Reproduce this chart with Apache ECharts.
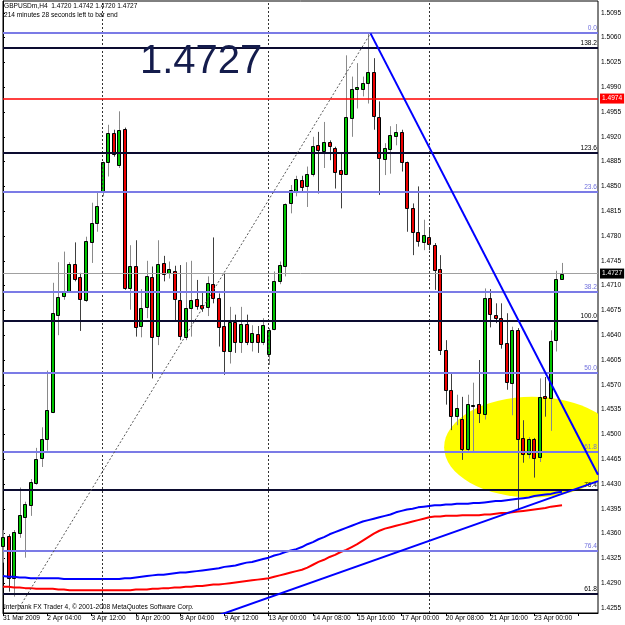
<!DOCTYPE html>
<html><head><meta charset="utf-8">
<script src="https://cdn.jsdelivr.net/npm/echarts@6/dist/echarts.min.js"></script>
<style>html,body{margin:0;padding:0;background:#fff}#c{width:625px;height:625px}</style>
</head><body><div id="c"></div>
<script>
// ---------- DATA ----------
const symbolName = 'GBPUSDm,H4';
const timerText = '214 minutes 28 seconds left to bar end';
const copyrightText = 'Interbank FX Trader 4, \u00a9 2001-2008 MetaQuotes Software Corp.';
const timeLabels = ['31 Mar 2009','2 Apr 04:00','3 Apr 12:00','6 Apr 20:00','8 Apr 04:00','9 Apr 12:00','13 Apr 00:00','14 Apr 08:00','15 Apr 16:00','17 Apr 00:00','20 Apr 08:00','21 Apr 16:00','23 Apr 00:00'];
const barsPerLabel = 8;
const priceTicks = [1.4255,1.4290,1.4325,1.4360,1.4395,1.4430,1.4465,1.4500,1.4535,1.4570,1.4605,1.4640,1.4675,1.4710,1.4745,1.4780,1.4815,1.4850,1.4885,1.4920,1.4955,1.4990,1.5025,1.5060,1.5095];

const opens = [1.4343,1.4357,1.4298,1.4361,1.4384,1.4400,1.4432,1.4466,1.4493,1.4532,
1.4669,1.4696,1.4701,1.4740,1.4722,1.4690,1.4772,1.4798,1.4842,1.4884,
1.4926,1.4880,1.4931,1.4707,1.4738,1.4653,1.4680,1.4722,1.4639,1.4742,
1.4728,1.4731,1.4690,1.4638,1.4678,1.4691,1.4683,1.4680,1.4712,1.4692,
1.4653,1.4617,1.4659,1.4630,1.4656,1.4630,1.4641,1.4630,1.4614,1.4649,
1.4716,1.4737,1.4826,1.4843,1.4859,1.4850,1.4868,1.4908,1.4900,1.4913,
1.4904,1.4873,1.4868,1.4947,1.4987,1.4988,1.4996,1.5012,1.4948,1.4888,
1.4903,1.4921,1.4927,1.4884,1.4819,1.4786,1.4772,1.4778,1.4768,1.4733,
1.4619,1.4562,1.4526,1.4522,1.4480,1.4542,1.4543,1.4529,1.4692,1.4669,
1.4664,1.4629,1.4572,1.4647,1.4495,1.4472,1.4493,1.4468,1.4554,1.4551,
1.4633,1.4720];
const highs = [1.4365,1.4359,1.4365,1.4425,1.4405,1.4437,1.4481,1.4510,1.4590,1.4714,
1.4743,1.4758,1.4743,1.4771,1.4728,1.4779,1.4827,1.4843,1.4885,1.4937,
1.4930,1.4956,1.4933,1.4767,1.4774,1.4705,1.4745,1.4737,1.4774,1.4752,
1.4744,1.4738,1.4739,1.4743,1.4745,1.4718,1.4701,1.4723,1.4778,1.4699,
1.4727,1.4680,1.4669,1.4680,1.4669,1.4654,1.4653,1.4664,1.4650,1.4730,
1.4744,1.4826,1.4852,1.4865,1.4865,1.4878,1.4920,1.4927,1.4941,1.4915,
1.4906,1.4897,1.5035,1.5005,1.5024,1.5005,1.5066,1.5031,1.4970,1.4911,
1.4935,1.4938,1.4930,1.4885,1.4826,1.4850,1.4803,1.4790,1.4770,1.4753,
1.4633,1.4586,1.4556,1.4553,1.4556,1.4573,1.4605,1.4706,1.4705,1.4685,
1.4685,1.4671,1.4652,1.4650,1.4520,1.4496,1.4495,1.4579,1.4581,1.4647,
1.4731,1.4742];
const lows = [1.4319,1.4278,1.4271,1.4354,1.4326,1.4385,1.4429,1.4454,1.4477,1.4530,
1.4640,1.4690,1.4700,1.4716,1.4646,1.4687,1.4742,1.4786,1.4836,1.4864,
1.4892,1.4876,1.4704,1.4676,1.4638,1.4637,1.4664,1.4579,1.4626,1.4716,
1.4720,1.4661,1.4633,1.4633,1.4638,1.4676,1.4673,1.4667,1.4685,1.4624,
1.4584,1.4600,1.4615,1.4615,1.4626,1.4617,1.4615,1.4626,1.4598,1.4647,
1.4712,1.4723,1.4812,1.4836,1.4843,1.4821,1.4864,1.4840,1.4876,1.4887,
1.4847,1.4819,1.4866,1.4920,1.4960,1.4977,1.4967,1.4930,1.4838,1.4866,
1.4868,1.4908,1.4871,1.4786,1.4753,1.4765,1.4760,1.4760,1.4704,1.4612,
1.4542,1.4506,1.4513,1.4464,1.4476,1.4476,1.4516,1.4521,1.4651,1.4657,
1.4621,1.4563,1.4527,1.4393,1.4460,1.4466,1.4439,1.4461,1.4525,1.4505,
1.4617,1.4720];
const closes = [1.4355,1.4298,1.4362,1.4386,1.4402,1.4433,1.4465,1.4493,1.4534,1.4671,
1.4694,1.4701,1.4740,1.4719,1.4691,1.4773,1.4798,1.4822,1.4884,1.4926,
1.4896,1.4930,1.4706,1.4738,1.4651,1.4679,1.4723,1.4638,1.4741,1.4726,
1.4733,1.4691,1.4639,1.4679,1.4690,1.4681,1.4679,1.4713,1.4692,1.4652,
1.4617,1.4659,1.4630,1.4656,1.4630,1.4643,1.4631,1.4654,1.4647,1.4716,
1.4739,1.4825,1.4845,1.4860,1.4849,1.4867,1.4907,1.4901,1.4912,1.4907,
1.4871,1.4868,1.4948,1.4988,1.4990,1.4996,1.5011,1.4950,1.4890,1.4904,
1.4923,1.4927,1.4884,1.4819,1.4786,1.4773,1.4781,1.4769,1.4732,1.4619,
1.4563,1.4526,1.4537,1.4479,1.4543,1.4542,1.4530,1.4692,1.4670,1.4664,
1.4627,1.4574,1.4648,1.4493,1.4472,1.4493,1.4466,1.4553,1.4551,1.4632,
1.4720,1.4727];

const maBlue = [1.4300,1.4299,1.4299,1.4298,1.4298,1.4297,1.4297,1.4297,1.4297,1.4297,
1.4297,1.4296,1.4296,1.4296,1.4296,1.4296,1.4296,1.4296,1.4296,1.4296,
1.4296,1.4296,1.4297,1.4297,1.4298,1.4299,1.4300,1.4301,1.4302,1.4302,
1.4303,1.4304,1.4305,1.4305,1.4306,1.4307,1.4308,1.4309,1.4310,1.4311,
1.4313,1.4314,1.4315,1.4317,1.4319,1.4320,1.4322,1.4324,1.4326,1.4329,
1.4331,1.4334,1.4336,1.4338,1.4341,1.4345,1.4348,1.4352,1.4355,1.4359,
1.4362,1.4365,1.4368,1.4371,1.4374,1.4377,1.4379,1.4381,1.4383,1.4385,
1.4387,1.4390,1.4392,1.4394,1.4395,1.4397,1.4398,1.4399,1.4400,1.4400,
1.4401,1.4401,1.4402,1.4402,1.4402,1.4403,1.4403,1.4404,1.4405,1.4406,
1.4406,1.4407,1.4408,1.4409,1.4410,1.4411,1.4413,1.4414,1.4415,1.4416,
1.4418,1.4419];
const maRed = [1.4285,1.4285,1.4284,1.4284,1.4283,1.4283,1.4282,1.4282,1.4282,1.4282,
1.4281,1.4281,1.4280,1.4280,1.4280,1.4280,1.4280,1.4280,1.4280,1.4280,
1.4280,1.4280,1.4280,1.4280,1.4281,1.4281,1.4281,1.4282,1.4282,1.4283,
1.4283,1.4284,1.4284,1.4285,1.4285,1.4286,1.4286,1.4287,1.4288,1.4288,
1.4289,1.4290,1.4291,1.4292,1.4293,1.4294,1.4295,1.4296,1.4297,1.4299,
1.4301,1.4303,1.4305,1.4307,1.4309,1.4312,1.4316,1.4320,1.4323,1.4327,
1.4330,1.4334,1.4337,1.4341,1.4345,1.4350,1.4355,1.4360,1.4364,1.4367,
1.4369,1.4371,1.4373,1.4375,1.4377,1.4379,1.4381,1.4383,1.4384,1.4384,
1.4385,1.4385,1.4385,1.4386,1.4386,1.4386,1.4386,1.4387,1.4387,1.4388,
1.4389,1.4389,1.4390,1.4391,1.4392,1.4393,1.4394,1.4395,1.4396,1.4398,
1.4399,1.4400];

const retraceLevels = ['0.0','23.6','38.2','50.0','61.8','76.4'];
const retracePrices = [1.50665,1.48421,1.47014,1.45876,1.44752,1.43359];
const expansionLevels = ['61.8','76.4','100.0','123.6','138.2'];
const expansionPrices = [1.42748,1.44215,1.46600,1.48971,1.50453];
const alertPrice = 1.4974;
const separatorBars = [18, 48, 77];
const downTrend = [[66.4, 1.5066], [107.5, 1.4443]];
const upTrend = [[38, 1.4242], [107.5, 1.4434]];
const fibBase = [[0, 1.4218], [66.4, 1.5066]];
const ellipseZone = [95.6, 1.4482, 15.9, 0.0071]; // centre bar, centre price, half-width (bars), half-height (price)

// ---------- CHART ----------
const FONT = 'Liberation Sans';
const last = closes.length - 1;
const chart = echarts.init(document.getElementById('c'), null, {renderer: 'canvas'});
const candleData = opens.map((o, i) => [i, o, closes[i], lows[i], highs[i]]);

const fibLines = [];
retracePrices.forEach((p, k) => fibLines.push({
  yAxis: p, lineStyle: {color: '#7b7be6', width: 2, type: 'solid'},
  label: {show: true, position: 'insideEndTop', formatter: retraceLevels[k], color: '#7070dd', fontSize: 6.6, fontFamily: FONT, distance: 1}
}));
expansionPrices.forEach((p, k) => fibLines.push({
  yAxis: p, lineStyle: {color: '#0c0c30', width: 2, type: 'solid'},
  label: {show: true, position: 'insideEndTop', formatter: expansionLevels[k], color: '#000', fontSize: 6.6, fontFamily: FONT, distance: 1}
}));
fibLines.push({
  yAxis: alertPrice, lineStyle: {color: '#ff0000', width: 1.5, type: 'solid'},
  label: {show: true, position: 'end', formatter: alertPrice.toFixed(4), color: '#fff', backgroundColor: '#ff0000', padding: [2, 2, 1, 2], fontSize: 6.6, fontFamily: FONT, distance: 2}
});
fibLines.push({
  yAxis: closes[last], lineStyle: {color: '#a0a0a0', width: 1, type: 'solid'},
  label: {show: true, position: 'end', formatter: closes[last].toFixed(4), color: '#fff', backgroundColor: '#000', padding: [2, 2, 1, 2], fontSize: 6.6, fontFamily: FONT, distance: 2}
});

const option = {
  animation: false,
  backgroundColor: '#fff',
  grid: {left: 1, top: 1, right: 27, bottom: 12, show: true, borderColor: '#000', borderWidth: 1},
  xAxis: {
    type: 'value', min: 0, max: 107.5, interval: barsPerLabel,
    axisLine: {show: true, lineStyle: {color: '#000'}},
    axisTick: {show: true, length: 3, lineStyle: {color: '#000'}},
    splitLine: {show: false},
    axisLabel: {
      align: 'left', margin: 2, fontSize: 6.6, fontFamily: FONT, color: '#000', showMaxLabel: false,
      formatter: v => (v % barsPerLabel === 0 && timeLabels[v / barsPerLabel]) || ''
    }
  },
  yAxis: {
    type: 'value', position: 'right', min: 1.42479, max: 1.51117, scale: true,
    axisLine: {show: true, lineStyle: {color: '#000'}},
    axisTick: {show: true, length: 2, customValues: priceTicks, lineStyle: {color: '#000'}},
    splitLine: {show: false},
    axisLabel: {customValues: priceTicks, margin: 3, fontSize: 6.6, fontFamily: FONT, color: '#000', formatter: v => v.toFixed(4)}
  },
  series: [
    {
      type: 'custom', name: 'zone', z: 1, silent: true,
      data: [ellipseZone], encode: {x: 0, y: 1},
      renderItem: (params, api) => {
        const c = api.coord([api.value(0), api.value(1)]);
        const s = api.size([api.value(2), api.value(3)]);
        const cs = params.coordSys;
        return {type: 'group', clipPath: {type: 'rect', shape: {x: cs.x, y: cs.y, width: cs.width, height: cs.height}},
          children: [{type: 'circle', x: c[0], y: c[1], scaleX: s[0] / s[1], shape: {cx: 0, cy: 0, r: s[1]}, style: {fill: '#ffff00'}}]};
      }
    },
    {
      type: 'line', name: 'separators', z: 2, data: [], silent: true,
      markLine: {symbol: 'none', silent: true, label: {show: false},
        lineStyle: {color: '#333', type: [2, 2], width: 1},
        data: separatorBars.map(b => ({xAxis: b}))}
    },
    {
      type: 'custom', name: 'GBPUSD', z: 3, silent: true,
      data: candleData, encode: {x: 0, y: [1, 2, 3, 4]},
      renderItem: (params, api) => {
        const i = api.value(0), o = api.value(1), c = api.value(2), l = api.value(3), h = api.value(4);
        const pH = api.coord([i, h]), pL = api.coord([i, l]), pO = api.coord([i, o]), pC = api.coord([i, c]);
        const x = Math.round(pH[0]) + 0.5;
        const top = Math.round(Math.min(pO[1], pC[1])) + 0.5;
        const bot = Math.round(Math.max(pO[1], pC[1])) + 0.5;
        const up = c >= o;
        return {type: 'group', children: [
          {type: 'line', shape: {x1: x, y1: pH[1], x2: x, y2: pL[1]}, style: {stroke: up ? '#8a8a8a' : '#404040', lineWidth: 1}},
          {type: 'rect', shape: {x: x - 2, y: top, width: 3, height: Math.max(bot - top, 1)},
            style: {fill: up ? '#00c400' : '#ee0000', stroke: '#000', lineWidth: 1}}
        ]};
      }
    },
    {type: 'line', name: 'MA slow', z: 4, data: maBlue.map((v, i) => [i, v]), showSymbol: false, silent: true,
      lineStyle: {color: '#0000ff', width: 2}},
    {type: 'line', name: 'MA fast', z: 4, data: maRed.map((v, i) => [i, v]), showSymbol: false, silent: true,
      lineStyle: {color: '#ff0000', width: 2}},
    {
      type: 'line', name: 'levels', z: 5, data: [], silent: true,
      markLine: {symbol: 'none', silent: true, precision: 5, data: fibLines}
    },
    {type: 'line', name: 'fib base', z: 5, data: fibBase, showSymbol: false, silent: true,
      lineStyle: {color: '#555', width: 1, type: [2, 2]}},
    {type: 'line', name: 'down trend', z: 6, data: downTrend, showSymbol: false, silent: true,
      lineStyle: {color: '#0000ff', width: 2}},
    {type: 'line', name: 'up trend', z: 6, data: upTrend, showSymbol: false, silent: true,
      lineStyle: {color: '#0000ff', width: 2}}
  ],
  graphic: [
    {type: 'text', left: 4, top: 3, z: 10, style: {
      text: symbolName + '  ' + [opens[last], highs[last], lows[last], closes[last]].map(v => v.toFixed(4)).join(' '),
      fontSize: 6.6, fontFamily: FONT, fill: '#000'}},
    {type: 'text', left: 4, top: 12, z: 10, style: {text: timerText, fontSize: 6.6, fontFamily: FONT, fill: '#000'}},
    {type: 'text', left: 140, top: 42, z: 10, style: {text: closes[last].toFixed(4), fontSize: 40, fontFamily: FONT, fill: '#141c4c'}},
    {type: 'text', left: 4, top: 604, z: 10, style: {text: copyrightText, fontSize: 6.6, fontFamily: FONT, fill: '#000'}}
  ]
};
chart.setOption(option);
</script>
</body></html>
